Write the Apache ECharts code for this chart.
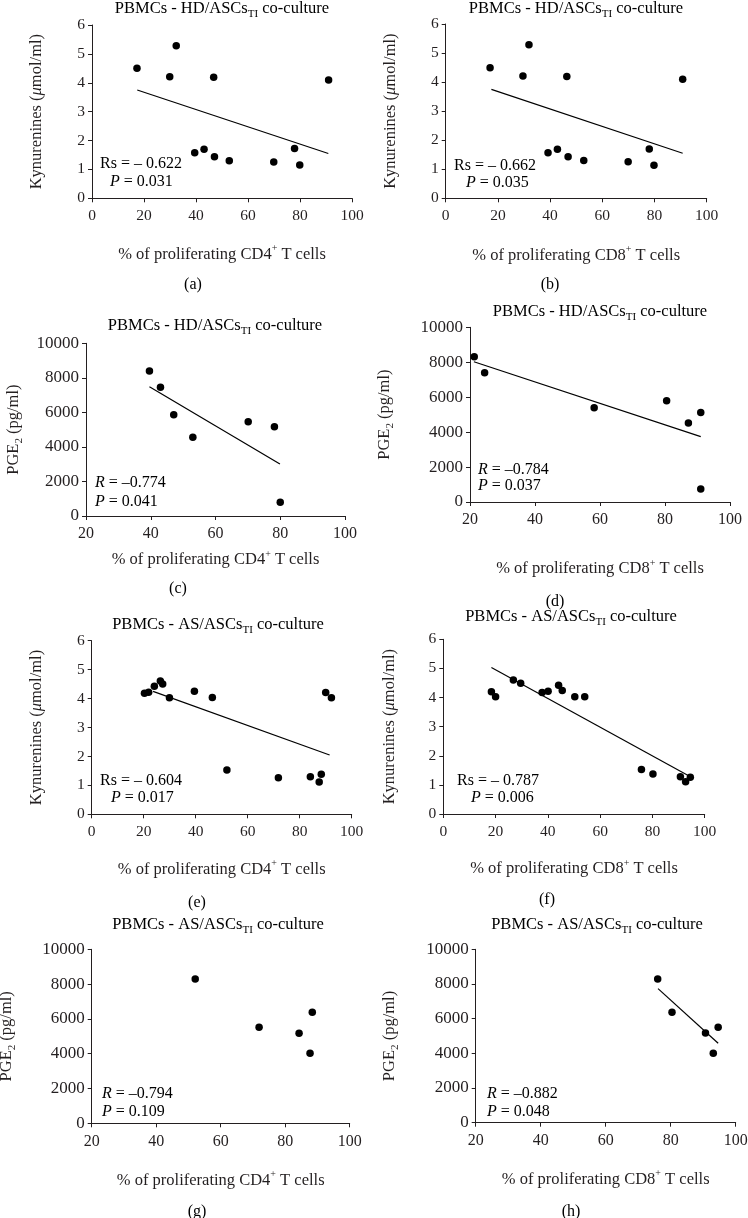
<!DOCTYPE html>
<html><head><meta charset="utf-8">
<script src="https://cdn.jsdelivr.net/npm/echarts@6/dist/echarts.min.js"></script>
<style>html,body{margin:0;padding:0;background:#fff}#c{width:748px;height:1218px}</style>
</head><body><div id="c"></div>
<script>
// ---------- data ----------
// (a) HD co-culture, CD4+ vs kynurenines
const aX = [17.3, 29.9, 32.4, 46.8, 91.0, 39.5, 43.1, 47.1, 52.8, 69.9, 77.9, 79.9];
const aY = [4.50, 4.21, 5.28, 4.19, 4.10, 1.58, 1.70, 1.44, 1.30, 1.26, 1.72, 1.15];
const aTrend = [[17.4, 3.75], [90.9, 1.55]];
// (b) HD co-culture, CD8+ vs kynurenines
const bX = [17.0, 29.6, 31.9, 46.4, 90.8, 39.2, 42.8, 46.9, 52.9, 69.9, 78.0, 79.8];
const bY = [4.49, 4.21, 5.29, 4.19, 4.10, 1.57, 1.69, 1.43, 1.30, 1.26, 1.70, 1.14];
const bTrend = [[17.5, 3.75], [90.8, 1.55]];
// (c) HD co-culture, CD4+ vs PGE2
const cX = [39.6, 43.0, 47.1, 53.0, 70.1, 78.2, 80.0];
const cY = [8400, 7450, 5870, 4560, 5460, 5170, 790];
const cTrend = [[39.6, 7490], [79.9, 3010]];
// (d) HD co-culture, CD8+ vs PGE2
const dX = [21.3, 24.5, 58.2, 80.5, 87.2, 91.0, 91.0];
const dY = [8320, 7400, 5400, 5800, 4520, 5120, 740];
const dTrend = [[21.2, 8030], [91.0, 3740]];
// (e) AS co-culture, CD4+ vs kynurenines
const eX = [20.3, 21.9, 24.1, 26.4, 27.3, 29.9, 39.5, 46.4, 90.0, 92.2, 52.0, 71.8, 84.1, 88.3, 87.5];
const eY = [4.18, 4.22, 4.43, 4.61, 4.50, 4.03, 4.25, 4.04, 4.21, 4.03, 1.53, 1.26, 1.30, 1.38, 1.12];
const eTrend = [[23.6, 4.25], [91.5, 2.05]];
// (f) AS co-culture, CD8+ vs kynurenines
const fX = [18.4, 20.0, 26.8, 29.6, 37.8, 40.1, 44.1, 45.5, 50.3, 54.1, 75.8, 80.2, 90.7, 92.7, 94.5];
const fY = [4.20, 4.03, 4.60, 4.49, 4.17, 4.22, 4.42, 4.24, 4.03, 4.03, 1.53, 1.37, 1.28, 1.11, 1.26];
const fTrend = [[18.4, 5.03], [93.5, 1.33]];
// (g) AS co-culture, CD4+ vs PGE2
const gX = [52.1, 71.9, 84.3, 88.4, 87.7];
const gY = [8300, 5520, 5170, 6380, 4020];
// (h) AS co-culture, CD8+ vs PGE2
const hX = [76.0, 80.4, 90.7, 94.6, 93.1];
const hY = [8290, 6365, 5170, 5500, 4000];
const hTrend = [[76.1, 7730], [94.6, 4580]];

const statsR = ['– 0.622', '– 0.662', '–0.774', '–0.784', '– 0.604', '– 0.787', '–0.794', '–0.882'];
const statsP = ['0.031', '0.035', '0.041', '0.037', '0.017', '0.006', '0.109', '0.048'];
const panelLetters = ['(a)', '(b)', '(c)', '(d)', '(e)', '(f)', '(g)', '(h)'];
const groups = ['HD', 'HD', 'HD', 'HD', 'AS', 'AS', 'AS', 'AS'];
const cells = ['CD4', 'CD8', 'CD4', 'CD8', 'CD4', 'CD8', 'CD4', 'CD8'];
const kynTicks = [0, 6, 1];
const pgeTicks = [0, 10000, 2000];

// ---------- styling / layout ----------
const FONT = 'Liberation Serif';
const INK = '#231f20';
function mkRich(fs) {
  return {
    n: {fontFamily: FONT, fontSize: fs, color: INK, lineHeight: 22},
    i: {fontFamily: FONT, fontSize: fs, color: INK, lineHeight: 22, fontStyle: 'italic'},
    sub: {fontFamily: FONT, fontSize: Math.round(fs * 0.68), color: INK, lineHeight: 10, verticalAlign: 'bottom'},
    sup: {fontFamily: FONT, fontSize: Math.round(fs * 0.62), color: INK, lineHeight: 14, verticalAlign: 'top'}
  };
}
const richTitle = mkRich(16.5);
const richName = mkRich(16.5);
const richStat = mkRich(16);

const panels = [
  {x: aX, y: aY, tr: aTrend, kyn: true, xmin: 0, grid: [92, 25, 260, 173.3], ttl: [222, 9], yGap: 44, xGap: 45, stat: [100, 164, 110, 182], let: [193, 285]},
  {x: bX, y: bY, tr: bTrend, kyn: true, xmin: 0, grid: [445.7, 24, 261, 174.3], ttl: [576, 9], yGap: 44, xGap: 46, stat: [454, 166, 466, 183], let: [550, 285]},
  {x: cX, y: cY, tr: cTrend, kyn: false, xmin: 20, grid: [86, 343.3, 259, 172.7], ttl: [215, 326], yGap: 61, xGap: 33, stat: [95, 483, 95, 502], let: [178, 589]},
  {x: dX, y: dY, tr: dTrend, kyn: false, xmin: 20, grid: [470, 327.3, 260, 174.7], ttl: [600, 312], yGap: 74, xGap: 56, stat: [478, 470, 478, 486], let: [555, 602]},
  {x: eX, y: eY, tr: eTrend, kyn: true, xmin: 0, grid: [91.7, 640.7, 260, 173.6], ttl: [218, 625], yGap: 44, xGap: 44, stat: [100, 781, 111, 798], let: [197, 903]},
  {x: fX, y: fY, tr: fTrend, kyn: true, xmin: 0, grid: [443.3, 639.3, 261.4, 174.7], ttl: [571, 617], yGap: 43, xGap: 44, stat: [457, 781, 471, 798], let: [547, 900]},
  {x: gX, y: gY, tr: null, kyn: false, xmin: 20, grid: [91.7, 949.3, 258, 174], ttl: [218, 925], yGap: 74, xGap: 46, stat: [102, 1094, 102, 1112], let: [197, 1212]},
  {x: hX, y: hY, tr: hTrend, kyn: false, xmin: 20, grid: [475.7, 949.3, 260, 173.4], ttl: [597, 925], yGap: 75, xGap: 46, stat: [487, 1094, 487, 1112], let: [571, 1212]}
];

const grid = [], xAxis = [], yAxis = [], series = [], graphic = [];
const axisLine = {show: true, onZero: false, lineStyle: {color: INK, width: 1}};
const axisTick = {show: true, length: 4, lineStyle: {color: INK, width: 1}};
const plain = v => String(v);

panels.forEach((p, k) => {
  const [l, t, w, h] = p.grid;
  grid.push({left: l, top: t, width: w, height: h, containLabel: false, outerBoundsMode: 'none'});
  xAxis.push({
    type: 'value', gridIndex: k, min: p.xmin, max: 100, interval: 20,
    axisLine, axisTick, splitLine: {show: false},
    axisLabel: {margin: 10, fontFamily: FONT, fontSize: p.kyn ? 15.5 : 16, color: INK, formatter: plain},
    name: '{n|% of proliferating ' + cells[k] + '}{sup|+}{n| T cells}',
    nameLocation: 'middle', nameGap: p.xGap, nameTextStyle: {rich: richName}
  });
  const yt = p.kyn ? kynTicks : pgeTicks;
  yAxis.push({
    type: 'value', gridIndex: k, min: yt[0], max: yt[1], interval: yt[2],
    axisLine, axisTick, splitLine: {show: false},
    axisLabel: {margin: 7, fontFamily: FONT, fontSize: p.kyn ? 15.5 : 17, color: INK, formatter: plain},
    name: p.kyn ? '{n|Kynurenines (}{i|μ}{n|mol/ml)}' : '{n|PGE}{sub|2}{n| (pg/ml)}',
    nameLocation: 'middle', nameGap: p.yGap, nameRotate: 90, nameTextStyle: {rich: richName}
  });
  series.push({
    type: 'scatter', xAxisIndex: k, yAxisIndex: k,
    data: p.x.map((v, j) => [v, p.y[j]]),
    symbolSize: 7.5, itemStyle: {color: '#000', opacity: 1}, silent: true
  });
  if (p.tr) {
    series.push({
      type: 'line', xAxisIndex: k, yAxisIndex: k, data: p.tr,
      showSymbol: false, symbol: 'none', lineStyle: {color: '#000', width: 1.2}, silent: true
    });
  }
  graphic.push({
    type: 'text', x: p.ttl[0], y: p.ttl[1],
    style: {text: '{n|PBMCs - ' + groups[k] + '/ASCs}{sub|TI}{n| co-culture}', rich: richTitle, align: 'center', verticalAlign: 'middle'}
  });
  const lab = p.kyn ? '{n|Rs = ' + statsR[k] + '}' : '{i|R}{n| = ' + statsR[k] + '}';
  graphic.push({type: 'text', x: p.stat[0], y: p.stat[1], style: {text: lab, rich: richStat, align: 'left', verticalAlign: 'middle'}});
  graphic.push({type: 'text', x: p.stat[2], y: p.stat[3], style: {text: '{i|P}{n| = ' + statsP[k] + '}', rich: richStat, align: 'left', verticalAlign: 'middle'}});
  graphic.push({type: 'text', x: p.let[0], y: p.let[1], style: {text: '{n|' + panelLetters[k] + '}', rich: richStat, align: 'center', verticalAlign: 'middle'}});
});

const chart = echarts.init(document.getElementById('c'), null, {renderer: 'canvas'});
chart.setOption({backgroundColor: '#fff', animation: false, grid, xAxis, yAxis, series, graphic});
</script></body></html>
